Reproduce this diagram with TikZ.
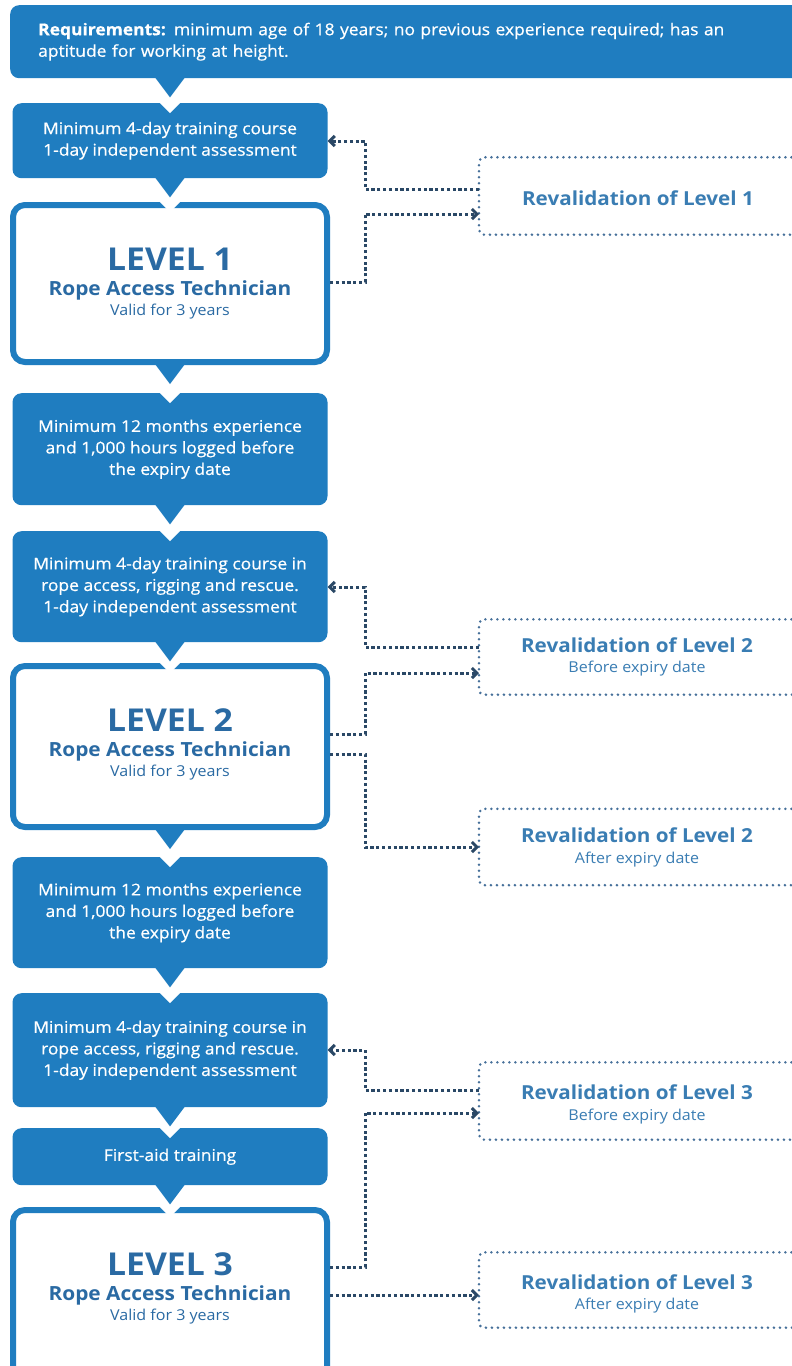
\documentclass[tikz,border=0pt]{standalone}
\usepackage{fontspec}
\setmainfont{Open Sans}[FakeStretch=1.07]
\newfontfamily\semibf{Open Sans}[FakeStretch=1.07, FakeBold=0.6]
\usepackage{tikz}
\usetikzlibrary{positioning, arrows.meta, calc}
\definecolor{rablue}{HTML}{1F7DC0}
\definecolor{radark}{HTML}{2A4866}
\definecolor{ratitle}{HTML}{2A6AA3}
\definecolor{rarev}{HTML}{3A7DB3}
\definecolor{radot}{HTML}{46709A}

\tikzset{
  stepbox/.style={fill=rablue, rounded corners=9pt, text=white, align=center,
    minimum width=315pt, inner sep=0pt, anchor=north,
    font=\fontsize{16.3}{21.5}\semibf},
  lvlbox/.style={draw=rablue, line width=6pt, fill=white, rounded corners=12pt,
    minimum width=314pt, inner sep=0pt, anchor=north},
  revbox/.style={minimum width=318pt, inner sep=0pt, anchor=west},
  revline/.style={radot, line width=2.8pt, dash pattern=on 0pt off 6pt,
    line cap=round, rounded corners=5pt},
  link/.style={radark, line width=3pt, dash pattern=on 3.2pt off 2.6pt},
  tip/.style={-{Straight Barb[length=5pt,width=10pt]}},
  lvltitle/.style={text=ratitle, font=\fontsize{31.5}{34}\selectfont\bfseries},
  lvlname/.style={text=ratitle, font=\fontsize{19.5}{22}\selectfont\bfseries},
  lvlnote/.style={text=ratitle, font=\fontsize{15}{17}\selectfont},
  revtitle/.style={text=rarev, font=\fontsize{19.3}{22}\selectfont\bfseries},
  revsub/.style={text=rarev, font=\fontsize{15}{17}\selectfont},
}

\begin{document}
\begin{tikzpicture}[x=1pt, y=-1pt]
\useasboundingbox (0,0) rectangle (792,1366);
\fill[white] (0,0) rectangle (792,1366);

% left column
\node[stepbox, anchor=north west, minimum width=800pt, minimum height=73pt,
  text width=744pt, align=left, inner xsep=28pt] (req) at (10,5)
  {{\bfseries Requirements:} minimum age of 18 years; no previous experience required; has an\\aptitude for working at height.};
\node[stepbox, minimum height=75pt] (courseA) at (170,103)
  {Minimum 4-day training course\\1-day independent assessment};
\node[lvlbox, minimum height=157pt] (lvlA) at (170,202) {};
\node[stepbox, minimum height=112pt] (expA) at (170,393)
  {Minimum 12 months experience\\and 1,000 hours logged before\\the expiry date};
\node[stepbox, minimum height=111pt] (courseB) at (170,531)
  {Minimum 4-day training course in\\rope access, rigging and rescue.\\1-day independent assessment};
\node[lvlbox, minimum height=161pt] (lvlB) at (170,663) {};
\node[stepbox, minimum height=111pt] (expB) at (170,857)
  {Minimum 12 months experience\\and 1,000 hours logged before\\the expiry date};
\node[stepbox, minimum height=114pt] (courseC) at (170,993)
  {Minimum 4-day training course in\\rope access, rigging and rescue.\\1-day independent assessment};
\node[stepbox, minimum height=57pt] (aid) at (170,1128) {First-aid training};
\node[lvlbox, minimum height=170pt] (lvlC) at (170,1207) {};

% level texts
\foreach \k/\t/\n in {A/202/1, B/663/2, C/1207/3}{
  \node[lvltitle] (lvl\k t) at (170,\t+57) {LEVEL \n};
  \node[lvlname] (lvl\k n) at (170,\t+88) {Rope Access Technician};
  \node[lvlnote] (lvl\k v) at (170,\t+110) {Valid for 3 years};
}

% pointers between the steps
\foreach \u/\d in {req/courseA, courseA/lvlA, lvlA/expA, expA/courseB, courseB/lvlB,
                   lvlB/expB, expB/courseC, courseC/aid, aid/lvlC}{
  \fill[white] ($(lvlA.center |- \d.north)+(-15,-5)$) -- ++(30,0) -- ++(-15,15) -- cycle;
  \fill[rablue] ($(lvlA.center |- \u.south)+(-15,-1)$) -- ++(30,0) -- ++(-15,20) -- cycle;
}

% revalidation boxes
\node[revbox, minimum height=77pt] (revA) at (479,196) {};
\node[revbox, minimum height=75pt] (revBpre) at (479,657) {};
\node[revbox, minimum height=76pt] (revBpost) at (479,847) {};
\node[revbox, minimum height=77pt] (revCpre) at (479,1101) {};
\node[revbox, minimum height=75pt] (revCpost) at (479,1290) {};
\foreach \r in {revA, revBpre, revBpost, revCpre, revCpost}{
  \draw[revline] (\r.north east) -- (\r.north west) -- (\r.south west) -- (\r.south east);
}

\node[revtitle] (revAt) at (638,198) {Revalidation of Level 1};
\node[revtitle] (revBpret) at (637,645) {Revalidation of Level 2};
\node[revsub] (revBpres) at (637,669) {Before expiry date};
\node[revtitle] (revBpostt) at (637,835) {Revalidation of Level 2};
\node[revsub] (revBposts) at (637,860) {After expiry date};
\node[revtitle] (revCpret) at (637,1092) {Revalidation of Level 3};
\node[revsub] (revCpres) at (637,1117) {Before expiry date};
\node[revtitle] (revCpostt) at (637,1282) {Revalidation of Level 3};
\node[revsub] (revCposts) at (637,1306) {After expiry date};

% links
\draw[link, tip] (lvlA.east |- 0,282) -- ++(35,0) |- (revA.west |- 0,214);
\draw[link, tip] (revA.west |- 0,189) -- ++(-114,0) |- (courseA.east |- 0,141);
\draw[link, tip] (lvlB.east |- 0,734) -- ++(35,0) |- (revBpre.west |- 0,673);
\draw[link, tip] (revBpre.west |- 0,647) -- ++(-114,0) |- (courseB.east |- 0,587);
\draw[link, tip] (lvlB.east |- 0,754) -- ++(35,0) |- (revBpost.west |- 0,847);
\draw[link, tip] (revCpre.west |- 0,1090) -- ++(-114,0) |- (courseC.east |- 0,1050);
\draw[link, tip] (lvlC.east |- 0,1267) -- ++(35,0) |- (revCpre.west |- 0,1113);
\draw[link, tip] (lvlC.east |- 0,1295) -- (revCpost.west |- 0,1295);
\end{tikzpicture}
\end{document}
